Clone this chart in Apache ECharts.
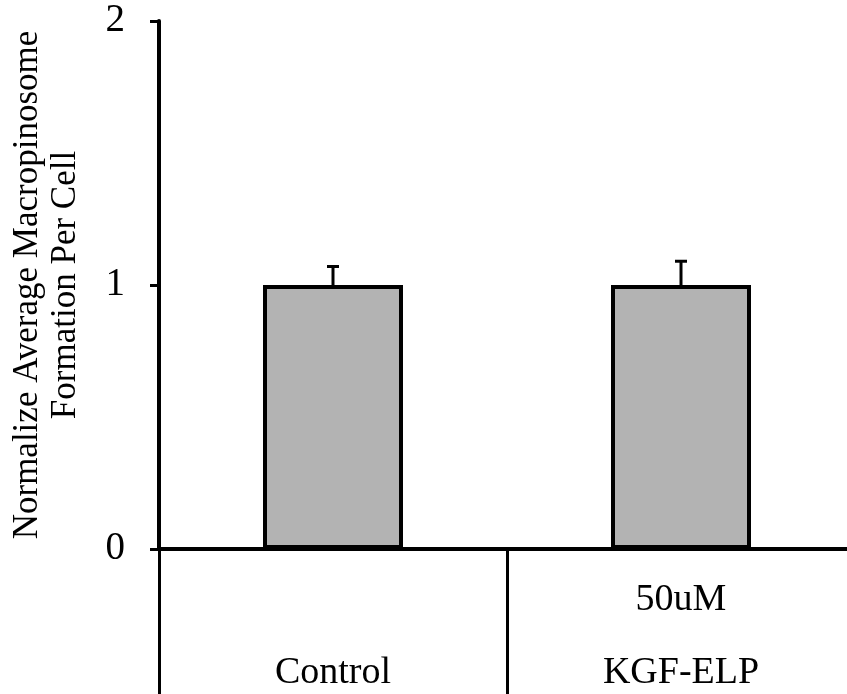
<!DOCTYPE html>
<html>
<head>
<meta charset="utf-8">
<script src="https://cdn.jsdelivr.net/npm/echarts@6/dist/echarts.min.js"></script>
<style>html,body{margin:0;padding:0;background:#fff;}#c{width:847px;height:694px;}</style>
</head>
<body>
<div id="c"></div>
<script>
var labelTop = ['', '50uM'];
var labelBottom = ['Control', 'KGF-ELP'];
var means = [1.0, 1.0];
var errors = [0.07, 0.09];
var yTicks = [0, 1, 2];
var yTitle = 'Normalize Average Macropinosome\nFormation Per Cell';

var categories = labelBottom.map(function (b, i) { return labelTop[i] + '\n' + b; });
var FONT = 'Liberation Serif';

var chart = echarts.init(document.getElementById('c'), null, {renderer: 'canvas'});
chart.setOption({
  animation: false,
  backgroundColor: '#ffffff',
  grid: {left: 159, right: -8, top: 21, bottom: 145, containLabel: false, outerBoundsMode: 'none'},
  xAxis: {
    type: 'category',
    data: categories,
    axisLine: {show: true, lineStyle: {color: '#000', width: 4}},
    axisTick: {show: true, alignWithLabel: false, inside: false, length: 150, lineStyle: {color: '#000', width: 3}},
    axisLabel: {interval: 0, margin: 15, fontFamily: FONT, fontSize: 38, color: '#000', lineHeight: 73},
    splitLine: {show: false}
  },
  yAxis: {
    type: 'value',
    min: yTicks[0], max: yTicks[yTicks.length - 1], interval: 1,
    name: yTitle,
    nameLocation: 'middle',
    nameGap: 74,
    nameTextStyle: {fontFamily: FONT, fontSize: 35, color: '#000', lineHeight: 38, align: 'center'},
    axisLine: {show: true, lineStyle: {color: '#000', width: 4}},
    axisTick: {show: true, length: 9, lineStyle: {color: '#000', width: 3}},
    axisLabel: {margin: 34, fontFamily: FONT, fontSize: 39, color: '#000'},
    splitLine: {show: false}
  },
  series: [
    {
      type: 'bar',
      data: means,
      barWidth: 140,
      itemStyle: {color: '#b3b3b3', borderColor: '#000', borderWidth: 4},
      z: 2
    },
    {
      type: 'custom',
      data: means.map(function (m, i) { return [i, m, m + errors[i]]; }),
      encode: {x: 0, y: [1, 2]},
      z: 3,
      renderItem: function (params, api) {
        var i = api.value(0);
        var p0 = api.coord([i, api.value(1)]);
        var p1 = api.coord([i, api.value(2)]);
        var hw = 6;
        var st = {stroke: '#000', lineWidth: 3};
        return {
          type: 'group',
          children: [
            {type: 'line', shape: {x1: p0[0], y1: p0[1], x2: p1[0], y2: p1[1]}, style: st},
            {type: 'line', shape: {x1: p1[0] - hw, y1: p1[1], x2: p1[0] + hw, y2: p1[1]}, style: st}
          ]
        };
      }
    }
  ]
});
</script>
</body>
</html>
